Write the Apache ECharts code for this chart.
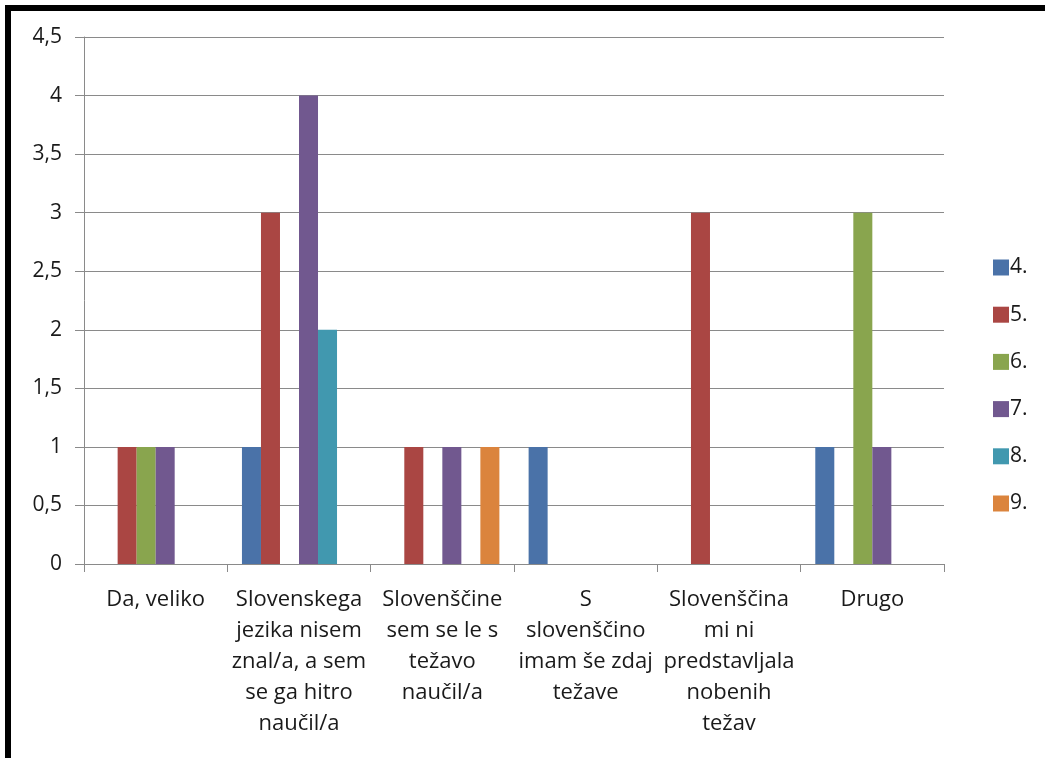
<!DOCTYPE html>
<html>
<head>
<meta charset="utf-8">
<style>
  html, body { margin: 0; padding: 0; background: #fff; overflow: hidden; }
  #frame {
    position: absolute; left: 5px; top: 5px; width: 1100px; height: 800px;
    border: 6px solid #000; box-sizing: border-box;
  }
  #chart { position: absolute; left: 0; top: 0; width: 1045px; height: 758px; }
</style>
<script src="https://cdn.jsdelivr.net/npm/echarts@6/dist/echarts.min.js"></script>
</head>
<body>
<div id="frame"></div>
<div id="chart"></div>
<script>
// Answer categories (x axis)
const categories = [
  'Da, veliko',
  'Slovenskega\njezika nisem\nznal/a, a sem\nse ga hitro\nnaučil/a',
  'Slovenščine\nsem se le s\ntežavo\nnaučil/a',
  'S\nslovenščino\nimam še zdaj\ntežave',
  'Slovenščina\nmi ni\npredstavljala\nnobenih\ntežav',
  'Drugo'
];

// Counts per grade
const grade4 = [0, 1, 0, 1, 0, 1];
const grade5 = [1, 3, 1, 0, 3, 0];
const grade6 = [1, 0, 0, 0, 0, 3];
const grade7 = [1, 4, 1, 0, 0, 1];
const grade8 = [0, 2, 0, 0, 0, 0];
const grade9 = [0, 0, 1, 0, 0, 0];

const seriesNames = ['4.', '5.', '6.', '7.', '8.', '9.'];
const seriesData = [grade4, grade5, grade6, grade7, grade8, grade9];
const colors = ['#4A72A8', '#AA4643', '#89A54E', '#71588F', '#4198AF', '#DB843D'];

const yMin = 0, yMax = 4.5, yStep = 0.5;

const font = '"Open Sans", Lato, sans-serif';
const textColor = '#1a1a1a';
const lineColor = '#8a8a8a';

const chart = echarts.init(document.getElementById('chart'), null, { renderer: 'canvas' });
chart.setOption({
  animation: false,
  color: colors,
  grid: { left: 84, right: 101, top: 37, bottom: 194, containLabel: false },
  legend: {
    orient: 'vertical',
    left: 988,
    top: 252,
    itemWidth: 16,
    itemHeight: 16,
    itemGap: 26.2,
    icon: 'rect',
    textStyle: { fontFamily: font, fontSize: 21, color: textColor, padding: [0, 0, 0, -4] },
    data: seriesNames
  },
  xAxis: {
    type: 'category',
    data: categories,
    axisLine: { lineStyle: { color: lineColor, width: 1 } },
    axisTick: { show: true, length: 8, lineStyle: { color: lineColor } },
    axisLabel: {
      interval: 0,
      margin: 20,
      fontFamily: font,
      fontSize: 22,
      lineHeight: 31,
      color: textColor,
      align: 'center'
    }
  },
  yAxis: {
    type: 'value',
    min: yMin,
    max: yMax,
    interval: yStep,
    axisLine: { show: true, lineStyle: { color: lineColor, width: 1 } },
    axisTick: { show: true, length: 9, lineStyle: { color: lineColor } },
    splitLine: { show: true, lineStyle: { color: lineColor, width: 1 } },
    axisLabel: {
      margin: 22,
      fontFamily: font,
      fontSize: 21,
      color: textColor,
      formatter: v => String(v).replace('.', ',')
    }
  },
  series: seriesNames.map((name, i) => ({
    name,
    type: 'bar',
    data: seriesData[i],
    barGap: '0%',
    barCategoryGap: '20.4%'
  }))
});
</script>
</body>
</html>
